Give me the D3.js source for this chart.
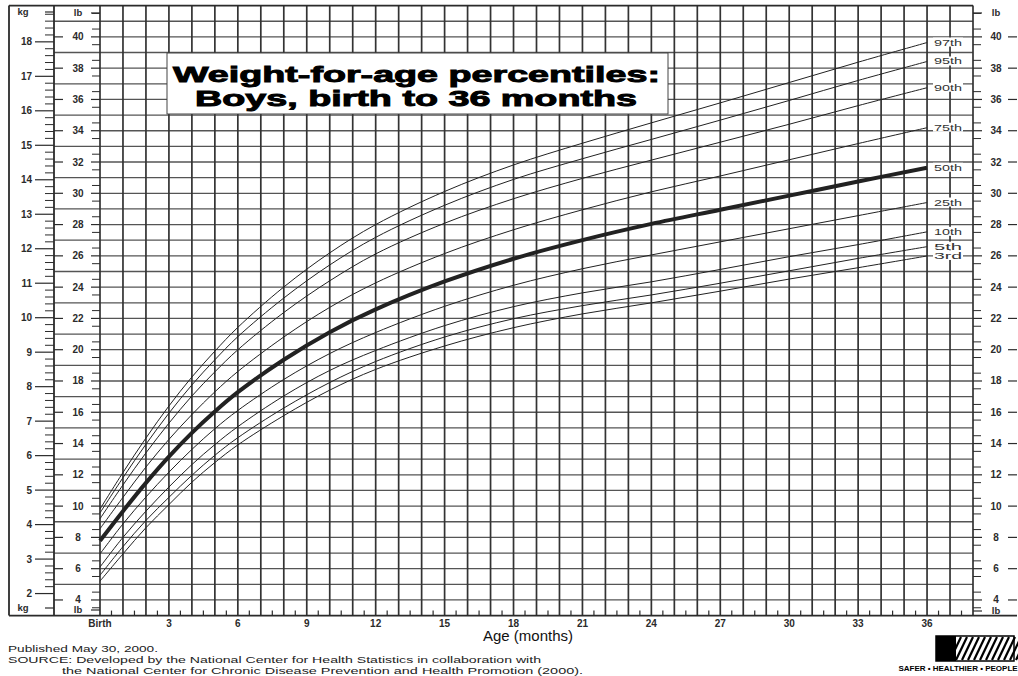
<!DOCTYPE html>
<html>
<head>
<meta charset="utf-8">
<script src="https://cdn.jsdelivr.net/npm/d3@7"></script>
<style>
  body { margin: 0; background: #fff; }
  svg { display: block; }
  text { font-family: "Liberation Sans", Arial, sans-serif; }
</style>
</head>
<body>
<svg width="1018" height="676"></svg>
<script>
const months = [0, 1, 2, 3, 4, 5, 6, 8, 10, 12, 15, 18, 21, 24, 27, 30, 33, 36];

// weight in kg for each percentile
const p3  = [2.36, 3.15, 3.91, 4.58, 5.23, 5.80, 6.31, 7.16, 7.90, 8.50, 9.18, 9.71, 10.11, 10.43, 10.77, 11.12, 11.45, 11.79];
const p5  = [2.53, 3.36, 4.12, 4.79, 5.43, 6.01, 6.52, 7.38, 8.12, 8.73, 9.44, 9.97, 10.35, 10.66, 11.00, 11.36, 11.72, 12.06];
const p10 = [2.77, 3.63, 4.39, 5.09, 5.74, 6.32, 6.84, 7.73, 8.47, 9.05, 9.77, 10.32, 10.72, 11.04, 11.40, 11.77, 12.12, 12.49];
const p25 = [3.15, 4.02, 4.80, 5.52, 6.18, 6.78, 7.31, 8.21, 8.96, 9.57, 10.33, 10.94, 11.42, 11.82, 12.20, 12.58, 12.96, 13.34];
const p50 = [3.53, 4.39, 5.21, 5.97, 6.66, 7.28, 7.84, 8.78, 9.58, 10.24, 11.05, 11.71, 12.25, 12.72, 13.13, 13.54, 13.95, 14.35];
const p75 = [3.88, 4.79, 5.67, 6.47, 7.19, 7.85, 8.44, 9.44, 10.30, 11.01, 11.86, 12.55, 13.13, 13.65, 14.11, 14.58, 15.05, 15.51];
const p90 = [4.17, 5.15, 6.08, 6.94, 7.73, 8.43, 9.07, 10.15, 11.07, 11.85, 12.74, 13.45, 14.04, 14.57, 15.09, 15.61, 16.15, 16.67];
const p95 = [4.34, 5.36, 6.33, 7.23, 8.05, 8.78, 9.45, 10.57, 11.53, 12.33, 13.26, 14.01, 14.61, 15.17, 15.73, 16.30, 16.88, 17.43];
const p97 = [4.45, 5.51, 6.51, 7.44, 8.28, 9.03, 9.72, 10.89, 11.88, 12.70, 13.66, 14.43, 15.06, 15.65, 16.23, 16.82, 17.41, 17.98];

const seriesNames = ['3rd', '5th', '10th', '25th', '50th', '75th', '90th', '95th', '97th'];
const seriesValues = [p3, p5, p10, p25, p50, p75, p90, p95, p97];

const ageTicks = [0, 3, 6, 9, 12, 15, 18, 21, 24, 27, 30, 33, 36];
const ageLabels = ['Birth', '3', '6', '9', '12', '15', '18', '21', '24', '27', '30', '33', '36'];
const kgTicks = d3.range(2, 19);
const lbTicks = d3.range(4, 41, 2);

const LB_PER_KG = 2.20462;

const svg = d3.select('svg');

const x = d3.scaleLinear().domain([0, 38]).range([100, 973]);
const y = d3.scaleLinear().domain([3, 42]).range([615.6, 5.6]); // pounds
const yKg = (kg) => y(kg * LB_PER_KG);

const ink = '#2b2b2b';

// grid
const grid = svg.append('g');
grid.selectAll('line.h')
  .data(d3.range(4, 42))
  .enter()
  .append('line')
  .attr('x1', (d) => (d % 2 == 1 ? 54 : x(0)))
  .attr('x2', x(38))
  .attr('y1', (d) => y(d))
  .attr('y2', (d) => y(d))
  .attr('stroke', '#555')
  .attr('stroke-width', 1.3);

grid.selectAll('line.v')
  .data(d3.range(0, 39))
  .enter()
  .append('line')
  .attr('x1', (d) => x(d))
  .attr('x2', (d) => x(d))
  .attr('y1', y(42))
  .attr('y2', y(3))
  .attr('stroke', '#333')
  .attr('stroke-width', 1.7);

// frame
const frame = svg.append('g').attr('stroke', ink).attr('stroke-width', 1.8);
frame.append('line').attr('x1', 9).attr('x2', x(38)).attr('y1', y(42)).attr('y2', y(42));
frame.append('line').attr('x1', 9).attr('x2', 1017).attr('y1', y(3)).attr('y2', y(3));
frame.append('line').attr('x1', 9).attr('x2', 9).attr('y1', y(42)).attr('y2', y(3));
frame.append('line').attr('x1', 54).attr('x2', 54).attr('y1', y(42)).attr('y2', y(3));

// half month ticks along the bottom
svg.append('g')
  .selectAll('line')
  .data(d3.range(0.5, 38, 1))
  .enter()
  .append('line')
  .attr('x1', (d) => x(d))
  .attr('x2', (d) => x(d))
  .attr('y1', y(3) - 5)
  .attr('y2', y(3))
  .attr('stroke', ink)
  .attr('stroke-width', 1.2);

// kg scale
const kgAxis = svg.append('g');
kgAxis.selectAll('line.minor')
  .data(d3.range(20, 189, 2).map((d) => d / 10).filter((d) => d % 1 != 0))
  .enter()
  .append('line')
  .attr('x1', 45).attr('x2', 54)
  .attr('y1', (d) => yKg(d)).attr('y2', (d) => yKg(d))
  .attr('stroke', ink).attr('stroke-width', 1);
kgAxis.selectAll('line.major')
  .data(kgTicks)
  .enter()
  .append('line')
  .attr('x1', 35).attr('x2', 54)
  .attr('y1', (d) => yKg(d)).attr('y2', (d) => yKg(d))
  .attr('stroke', ink).attr('stroke-width', 1.2);
kgAxis.selectAll('text')
  .data(kgTicks)
  .enter()
  .append('text')
  .attr('x', 32)
  .attr('y', (d) => yKg(d) + 3.5)
  .attr('text-anchor', 'end')
  .attr('font-size', 10)
  .attr('font-weight', 'bold')
  .attr('fill', ink)
  .text((d) => d);

// lb scales, left and right
function lbColumn(x0, x1, center, rightDash) {
  const g = svg.append('g');
  g.selectAll('line.minor')
    .data(d3.range(3.5, 41.6, 0.5).filter((d) => d % 2 != 0 && d % 2 != 1))
    .enter()
    .append('line')
    .attr('x1', rightDash ? x1 - 8 : x0).attr('x2', rightDash ? x1 : x0 + 8)
    .attr('y1', (d) => y(d)).attr('y2', (d) => y(d))
    .attr('stroke', ink).attr('stroke-width', 1);
  g.selectAll('line.left')
    .data(lbTicks)
    .enter()
    .append('line')
    .attr('x1', x0).attr('x2', x0 + 9)
    .attr('y1', (d) => y(d)).attr('y2', (d) => y(d))
    .attr('stroke', ink).attr('stroke-width', 1.2);
  g.selectAll('line.right')
    .data(lbTicks)
    .enter()
    .append('line')
    .attr('x1', x1 - 9).attr('x2', x1)
    .attr('y1', (d) => y(d)).attr('y2', (d) => y(d))
    .attr('stroke', ink).attr('stroke-width', 1.2);
  g.selectAll('text')
    .data(lbTicks)
    .enter()
    .append('text')
    .attr('x', center)
    .attr('y', (d) => y(d) + 3.5)
    .attr('text-anchor', 'middle')
    .attr('font-size', 10)
    .attr('font-weight', 'bold')
    .attr('fill', ink)
    .text((d) => d);
  return g;
}
lbColumn(54, 100, 78, true);
lbColumn(973, 1017, 996, false);

// unit headers
const units = [
  { t: 'kg', x: 23, y: 15, dx0: 45, dx1: 54 },
  { t: 'kg', x: 23, y: 611, dx0: 45, dx1: 54 },
  { t: 'lb', x: 78, y: 16, dx0: 91, dx1: 100 },
  { t: 'lb', x: 78, y: 613, dx0: 91, dx1: 100 },
  { t: 'lb', x: 996, y: 16, dx0: 973, dx1: 982 },
  { t: 'lb', x: 996, y: 614, dx0: 973, dx1: 982 },
];
units.forEach((u) => {
  svg.append('text')
    .attr('x', u.x).attr('y', u.y)
    .attr('text-anchor', 'middle')
    .attr('font-size', 9.5).attr('font-weight', 'bold')
    .attr('fill', ink)
    .text(u.t);
  svg.append('line')
    .attr('x1', u.dx0).attr('x2', u.dx1)
    .attr('y1', u.y - 3).attr('y2', u.y - 3)
    .attr('stroke', ink).attr('stroke-width', 1.2);
});

// percentile curves
const line = d3.line()
  .x((d) => x(d[0]))
  .y((d) => yKg(d[1]))
  .curve(d3.curveCatmullRom.alpha(0.5));

svg.append('g')
  .selectAll('path')
  .data(seriesValues)
  .enter()
  .append('path')
  .attr('d', (vals) => line(months.map((m, i) => [m, vals[i]])))
  .attr('fill', 'none')
  .attr('stroke', '#222')
  .attr('stroke-width', (vals, i) => (seriesNames[i] == '50th' ? 4 : 1));

// percentile labels
const labels = svg.append('g');
seriesValues.forEach((vals, i) => {
  const ly = yKg(vals[vals.length - 1]);
  labels.append('rect')
    .attr('x', 933).attr('y', ly - 5)
    .attr('width', 30).attr('height', 9)
    .attr('fill', '#fff');
  labels.append('text')
    .attr('x', 934).attr('y', ly + 3)
    .attr('font-size', 9.5)
    .attr('textLength', 28)
    .attr('lengthAdjust', 'spacingAndGlyphs')
    .attr('fill', '#333')
    .text(seriesNames[i]);
});

// age axis labels
svg.append('g')
  .selectAll('text')
  .data(ageTicks)
  .enter()
  .append('text')
  .attr('x', (d) => x(d))
  .attr('y', 627)
  .attr('text-anchor', 'middle')
  .attr('font-size', 10)
  .attr('font-weight', 'bold')
  .attr('fill', ink)
  .text((d, i) => ageLabels[i]);

svg.append('text')
  .attr('x', 528).attr('y', 641)
  .attr('text-anchor', 'middle')
  .attr('font-size', 15)
  .attr('fill', '#111')
  .text('Age (months)');

// title box
svg.append('rect')
  .attr('x', 167).attr('y', 53)
  .attr('width', 501).attr('height', 61)
  .attr('fill', '#fff')
  .attr('stroke', '#444')
  .attr('stroke-width', 1);
const title = svg.append('g')
  .attr('font-family', '"DejaVu Sans", "Liberation Sans", sans-serif')
  .attr('font-weight', 'bold')
  .attr('font-size', 22)
  .attr('fill', '#000')
  .attr('stroke', '#000')
  .attr('stroke-width', 0.9);
title.append('text')
  .attr('x', 173).attr('y', 82)
  .attr('textLength', 487).attr('lengthAdjust', 'spacingAndGlyphs')
  .text('Weight-for-age percentiles:');
title.append('text')
  .attr('x', 195).attr('y', 106)
  .attr('textLength', 442).attr('lengthAdjust', 'spacingAndGlyphs')
  .text('Boys, birth to 36 months');

// footer notes
const notes = [
  { t: 'Published May 30, 2000.', x: 8, y: 652, w: 150 },
  { t: 'SOURCE: Developed by the National Center for Health Statistics in collaboration with', x: 8, y: 663, w: 533 },
  { t: 'the National Center for Chronic Disease Prevention and Health Promotion (2000).', x: 62, y: 674, w: 521 },
];
notes.forEach((n) => {
  svg.append('text')
    .attr('x', n.x).attr('y', n.y)
    .attr('font-size', 9)
    .attr('textLength', n.w).attr('lengthAdjust', 'spacingAndGlyphs')
    .attr('fill', '#222')
    .text(n.t);
});

// logo (rough)
const logo = svg.append('g');
logo.append('rect')
  .attr('x', 936).attr('y', 636).attr('width', 78).attr('height', 25)
  .attr('fill', '#fff').attr('stroke', '#000').attr('stroke-width', 1.5);
d3.range(0, 12).forEach((i) => {
  logo.append('line')
    .attr('x1', 950 + i * 6).attr('y1', 660)
    .attr('x2', 961 + i * 6).attr('y2', 637)
    .attr('stroke', '#000').attr('stroke-width', 2.2);
});
logo.append('rect')
  .attr('x', 936).attr('y', 636).attr('width', 20).attr('height', 25).attr('fill', '#000');
logo.append('text')
  .attr('x', 958).attr('y', 671)
  .attr('text-anchor', 'middle')
  .attr('font-size', 8).attr('font-weight', 'bold')
  .text('SAFER \u2022 HEALTHIER \u2022 PEOPLE');
</script>
</body>
</html>
